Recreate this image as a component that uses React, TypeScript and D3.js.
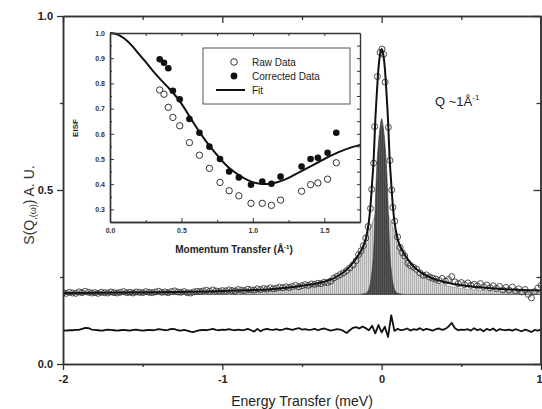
import { useEffect, useRef } from "react";
import * as d3 from "d3";

// main panel ticks
const mainYMajor = [0, 0.5, 1.0];
const mainYMinor = [0.25, 0.75];
const mainXMajor = [-2, -1, 0, 1];
const mainXMinor = [-1.5, -0.5, 0.5];

// residual, one value per 0.02 meV channel from -2 to 1
const residual = [
  0.097, 0.096, 0.097, 0.097, 0.098, 0.098, 0.101, 0.104, 0.103, 0.099,
  0.098, 0.097, 0.096, 0.097, 0.099, 0.098, 0.097, 0.096, 0.097, 0.098,
  0.097, 0.096, 0.098, 0.099, 0.097, 0.096, 0.097, 0.098, 0.097, 0.098,
  0.100, 0.099, 0.097, 0.098, 0.101, 0.100, 0.097, 0.096, 0.098, 0.096,
  0.093, 0.092, 0.095, 0.097, 0.098, 0.097, 0.099, 0.101, 0.098, 0.097,
  0.099, 0.098, 0.100, 0.098, 0.097, 0.099, 0.097, 0.098, 0.101, 0.097,
  0.093, 0.101, 0.094, 0.099, 0.101, 0.099, 0.098, 0.100, 0.097, 0.099,
  0.102, 0.100, 0.098, 0.101, 0.103, 0.099, 0.100, 0.098, 0.099, 0.101,
  0.097, 0.100, 0.102, 0.099, 0.096, 0.098, 0.100, 0.099, 0.095, 0.089,
  0.097, 0.104, 0.106, 0.102, 0.108, 0.103, 0.097, 0.110, 0.088, 0.112,
  0.091, 0.107, 0.078, 0.140, 0.095, 0.101, 0.097, 0.099, 0.102, 0.096,
  0.100, 0.098, 0.103, 0.097, 0.101, 0.099, 0.096, 0.100, 0.102, 0.098,
  0.101, 0.108, 0.118, 0.103, 0.097, 0.099, 0.098, 0.100, 0.096, 0.103,
  0.097, 0.100, 0.094, 0.101, 0.097, 0.102, 0.095, 0.100, 0.098, 0.097,
  0.099, 0.096, 0.100, 0.097, 0.094, 0.099, 0.096, 0.092, 0.098, 0.096,
  0.099,
];

// raw spectrum: left wing channels -2 .. -0.32 (step 0.02)
const rawLeft = [
  0.205, 0.203, 0.206, 0.204, 0.203, 0.207, 0.205, 0.209, 0.206, 0.204,
  0.205, 0.203, 0.206, 0.205, 0.204, 0.207, 0.205, 0.204, 0.206, 0.208,
  0.205, 0.206, 0.204, 0.207, 0.206, 0.205, 0.208, 0.206, 0.205, 0.207,
  0.209, 0.206, 0.207, 0.205, 0.208, 0.210, 0.207, 0.206, 0.208, 0.205,
  0.204, 0.207, 0.209, 0.208, 0.210, 0.212, 0.209, 0.213, 0.210, 0.209,
  0.211, 0.210, 0.213, 0.211, 0.210, 0.214, 0.212, 0.211, 0.215, 0.213,
  0.212, 0.216, 0.214, 0.217, 0.215, 0.219, 0.216, 0.218, 0.221, 0.219,
  0.222, 0.220, 0.223, 0.226, 0.222, 0.225, 0.228, 0.226, 0.230, 0.229,
  0.232, 0.231, 0.235, 0.234, 0.238,
];
// raw spectrum around the elastic line [E, S]
const rawPeak: [number, number][] = [
  [-0.30, 0.247], [-0.28, 0.252], [-0.26, 0.257], [-0.24, 0.262], [-0.22, 0.268],
  [-0.20, 0.276], [-0.18, 0.285], [-0.16, 0.297], [-0.145, 0.314], [-0.13, 0.325],
  [-0.115, 0.34], [-0.10, 0.362], [-0.085, 0.395], [-0.07, 0.447], [-0.063, 0.502],
  [-0.05, 0.577], [-0.044, 0.682], [-0.027, 0.826], [-0.01, 0.895], [0.002, 0.905],
  [0.012, 0.89], [0.022, 0.81], [0.042, 0.68], [0.052, 0.585], [0.063, 0.50],
  [0.07, 0.45], [0.082, 0.41], [0.10, 0.365], [0.115, 0.335], [0.13, 0.32],
  [0.145, 0.31], [0.165, 0.29], [0.18, 0.283], [0.20, 0.278], [0.22, 0.272],
  [0.24, 0.262], [0.26, 0.255], [0.28, 0.256], [0.30, 0.25],
];
// raw spectrum right wing 0.32 .. 1.0 (step 0.02)
const rawRight = [
  0.247, 0.244, 0.240, 0.246, 0.238, 0.243, 0.251, 0.236, 0.231, 0.234,
  0.228, 0.233, 0.226, 0.229, 0.224, 0.231, 0.222, 0.227, 0.219, 0.225,
  0.217, 0.223, 0.213, 0.220, 0.212, 0.221, 0.210, 0.216, 0.207, 0.214,
  0.200, 0.190, 0.208, 0.218, 0.226,
];

// total fit
const fitE = [-2, -1.5, -1, -0.8, -0.7, -0.6, -0.5, -0.4, -0.35, -0.3, -0.25, -0.2, -0.15, -0.125, -0.1, -0.08, -0.07, -0.06, -0.05, -0.04, -0.03, -0.02, -0.01, 0,
  0.01, 0.02, 0.03, 0.04, 0.05, 0.06, 0.07, 0.08, 0.1, 0.125, 0.15, 0.2, 0.25, 0.3, 0.35, 0.4, 0.5, 0.6, 0.7, 0.8, 1];
const fitS = [0.204, 0.206, 0.21, 0.213, 0.215, 0.219, 0.225, 0.232, 0.238, 0.247, 0.26, 0.28, 0.31, 0.33, 0.36, 0.41, 0.455, 0.52, 0.59, 0.70, 0.78, 0.85, 0.89, 0.905,
  0.89, 0.85, 0.78, 0.70, 0.59, 0.52, 0.455, 0.41, 0.36, 0.33, 0.31, 0.28, 0.262, 0.25, 0.241, 0.235, 0.226, 0.221, 0.217, 0.214, 0.211];

// quasielastic (broad) component
const broadE = [-2, -1.5, -1, -0.7, -0.5, -0.4, -0.3, -0.25, -0.2, -0.15, -0.125, -0.1, -0.08, -0.06, -0.04, -0.02, 0,
  0.02, 0.04, 0.06, 0.08, 0.1, 0.125, 0.15, 0.2, 0.25, 0.3, 0.4, 0.5, 0.7, 1];
const broadS = [0.202, 0.203, 0.206, 0.21, 0.217, 0.226, 0.24, 0.252, 0.27, 0.30, 0.325, 0.355, 0.38, 0.405, 0.43, 0.445, 0.45,
  0.445, 0.43, 0.405, 0.38, 0.355, 0.325, 0.30, 0.27, 0.252, 0.24, 0.226, 0.217, 0.21, 0.206];

// elastic (narrow) component
const narrowE = [-0.13, -0.1, -0.08, -0.07, -0.06, -0.05, -0.045, -0.04, -0.03, -0.02, -0.01, 0,
  0.01, 0.02, 0.03, 0.04, 0.045, 0.05, 0.06, 0.07, 0.08, 0.1, 0.13];
const narrowS = [0.2, 0.203, 0.215, 0.235, 0.27, 0.33, 0.39, 0.46, 0.57, 0.635, 0.68, 0.705,
  0.68, 0.635, 0.57, 0.46, 0.39, 0.33, 0.27, 0.235, 0.215, 0.203, 0.2];
const componentBase = 0.2;

// inset: EISF vs Q
const qValues = [0.348, 0.378, 0.408, 0.44, 0.488, 0.556, 0.626, 0.696, 0.77, 0.834, 0.902, 0.987, 1.066, 1.13, 1.194, 1.341, 1.404, 1.455, 1.523, 1.584];
const eisfRaw = [0.774, 0.757, 0.705, 0.665, 0.632, 0.565, 0.515, 0.463, 0.407, 0.374, 0.354, 0.324, 0.324, 0.316, 0.337, 0.372, 0.398, 0.405, 0.42, 0.485];
const eisfCorrected = [0.896, 0.882, 0.86, 0.771, 0.737, 0.659, 0.604, 0.549, 0.5, 0.45, 0.427, 0.398, 0.411, 0.402, 0.43, 0.47, 0.5, 0.505, 0.525, 0.604];
const fitQ = [0, 0.05, 0.1, 0.15, 0.2, 0.25, 0.3, 0.35, 0.4, 0.45, 0.5, 0.55, 0.6, 0.65, 0.7, 0.75, 0.8, 0.85, 0.9, 0.95, 1.0, 1.05, 1.1, 1.15, 1.2, 1.25, 1.3, 1.4, 1.5, 1.6, 1.7, 1.75];
const fitEisf = [1.0, 0.995, 0.978, 0.952, 0.918, 0.885, 0.85, 0.818, 0.788, 0.757, 0.72, 0.675, 0.63, 0.588, 0.55, 0.515, 0.483, 0.457, 0.437, 0.42, 0.408, 0.402, 0.401, 0.405, 0.413, 0.425, 0.44, 0.47, 0.5, 0.527, 0.548, 0.556];
const insetYMajor = [0.3, 0.4, 0.5, 0.6, 0.7, 0.8, 0.9, 1.0];
const insetYMinor = [0.25, 0.35, 0.45, 0.55, 0.65, 0.75, 0.85, 0.95];
const insetXMajor = [0, 0.5, 1.0, 1.5];
const insetXMinor = [0.25, 0.75, 1.25];

const FONT = "'Liberation Sans', Arial, sans-serif";

export default function App() {
  const ref = useRef<SVGSVGElement>(null);

  useEffect(() => {
    const svg = d3.select(ref.current);
    svg.selectAll("*").remove();

    const W = 542, H = 409;
    const m = { left: 63, right: 541, top: 16, bottom: 364 };
    const x = d3.scaleLinear().domain([-2, 1]).range([m.left, m.right]);
    const y = d3.scaleLinear().domain([0, 1]).range([m.bottom, m.top]);

    svg.attr("width", W).attr("height", H);

    const defs = svg.append("defs");
    const pl = defs.append("pattern").attr("id", "hatchLight").attr("width", 2).attr("height", 4).attr("patternUnits", "userSpaceOnUse");
    pl.append("rect").attr("width", 2).attr("height", 4).attr("fill", "#dadada");
    pl.append("line").attr("x1", 0.5).attr("x2", 0.5).attr("y1", 0).attr("y2", 4).attr("stroke", "#9c9c9c").attr("stroke-width", 0.7);
    const pd = defs.append("pattern").attr("id", "hatchDark").attr("width", 2).attr("height", 4).attr("patternUnits", "userSpaceOnUse");
    pd.append("rect").attr("width", 2).attr("height", 4).attr("fill", "#555");
    pd.append("line").attr("x1", 0.5).attr("x2", 0.5).attr("y1", 0).attr("y2", 4).attr("stroke", "#3a3a3a").attr("stroke-width", 0.7);
    defs.append("clipPath").attr("id", "plotClip").append("rect")
      .attr("x", m.left).attr("y", m.top).attr("width", m.right - m.left).attr("height", m.bottom - m.top);

    const plot = svg.append("g").attr("clip-path", "url(#plotClip)");

    // components
    const broad = broadE.map((e, i) => [e, broadS[i]] as [number, number]);
    const narrow = narrowE.map((e, i) => [e, narrowS[i]] as [number, number]);
    const compArea = d3.area<[number, number]>()
      .x(d => x(d[0])).y0(y(componentBase)).y1(d => y(d[1]))
      .curve(d3.curveMonotoneX);
    plot.append("path").attr("d", compArea(broad)).attr("fill", "url(#hatchLight)").attr("stroke", "#888").attr("stroke-width", 0.6);
    plot.append("path").attr("d", compArea(narrow)).attr("fill", "url(#hatchDark)").attr("stroke", "#333").attr("stroke-width", 0.6);
    plot.append("line").attr("x1", x(-2)).attr("x2", x(1)).attr("y1", y(componentBase)).attr("y2", y(componentBase))
      .attr("stroke", "#555").attr("stroke-width", 0.8);

    // raw data circles
    const raw: [number, number][] = [
      ...rawLeft.map((s, i) => [-2 + i * 0.02, s] as [number, number]),
      ...rawPeak,
      ...rawRight.map((s, i) => [0.32 + i * 0.02, s] as [number, number]),
    ];
    plot.append("g").selectAll("circle").data(raw).enter().append("circle")
      .attr("cx", d => x(d[0])).attr("cy", d => y(d[1])).attr("r", 3)
      .attr("fill", "none").attr("stroke", "#3a3a3a").attr("stroke-width", 0.9);

    // total fit
    const fit = fitE.map((e, i) => [e, fitS[i]] as [number, number]);
    const line = d3.line<[number, number]>().x(d => x(d[0])).y(d => y(d[1])).curve(d3.curveMonotoneX);
    plot.append("path").attr("d", line(fit)).attr("fill", "none").attr("stroke", "#111").attr("stroke-width", 2);

    // residual
    const res = residual.map((r, i) => [-2 + i * 0.02, r] as [number, number]);
    plot.append("path").attr("d", d3.line<[number, number]>().x(d => x(d[0])).y(d => y(d[1]))(res))
      .attr("fill", "none").attr("stroke", "#111").attr("stroke-width", 1.8).attr("stroke-linejoin", "round");

    // main axes
    const axColor = "#333";
    const styleAxis = (g: d3.Selection<SVGGElement, unknown, null, undefined>, fs: number, bold: boolean) => {
      g.selectAll("path").attr("stroke", axColor).attr("stroke-width", 1.5);
      g.selectAll("line").attr("stroke", axColor).attr("stroke-width", 1.3);
      g.selectAll("text").attr("font-family", FONT).attr("font-size", fs).attr("font-weight", bold ? "bold" : "normal").attr("fill", "#222");
    };
    const fmt1 = d3.format(".1f");

    const gl = svg.append("g").attr("transform", `translate(${m.left},0)`)
      .call(d3.axisLeft(y).tickValues(mainYMajor).tickSize(6).tickSizeOuter(0).tickPadding(4).tickFormat(d => fmt1(d as number)));
    styleAxis(gl, 11, true);
    const glm = svg.append("g").attr("transform", `translate(${m.left},0)`)
      .call(d3.axisLeft(y).tickValues(mainYMinor).tickSize(3).tickSizeOuter(0).tickFormat(() => ""));
    styleAxis(glm, 11, true);

    const gb = svg.append("g").attr("transform", `translate(0,${m.bottom})`)
      .call(d3.axisBottom(x).tickValues(mainXMajor).tickSize(6).tickSizeOuter(0).tickPadding(5).tickFormat(d => String(d)));
    styleAxis(gb, 11, true);
    // the last label sits on the page edge: keep it inside
    gb.selectAll<SVGTextElement, number>("text").filter(d => d === 1).attr("text-anchor", "end").attr("dx", 1);
    const gbm = svg.append("g").attr("transform", `translate(0,${m.bottom})`)
      .call(d3.axisBottom(x).tickValues(mainXMinor).tickSize(3).tickSizeOuter(0).tickFormat(() => ""));
    styleAxis(gbm, 11, true);

    const gt = svg.append("g").attr("transform", `translate(0,${m.top})`)
      .call(d3.axisTop(x).tickValues(mainXMajor).tickSize(-7).tickSizeOuter(0).tickFormat(() => ""));
    styleAxis(gt, 11, true);
    const gtm = svg.append("g").attr("transform", `translate(0,${m.top})`)
      .call(d3.axisTop(x).tickValues(mainXMinor).tickSize(-4).tickSizeOuter(0).tickFormat(() => ""));
    styleAxis(gtm, 11, true);

    const gr = svg.append("g").attr("transform", `translate(${m.right - 0.5},0)`)
      .call(d3.axisRight(y).tickValues(mainYMajor).tickSize(-7).tickSizeOuter(0).tickFormat(() => ""));
    styleAxis(gr, 11, true);
    const grm = svg.append("g").attr("transform", `translate(${m.right - 0.5},0)`)
      .call(d3.axisRight(y).tickValues(mainYMinor).tickSize(-4).tickSizeOuter(0).tickFormat(() => ""));
    styleAxis(grm, 11, true);

    // main titles
    const yt = svg.append("text").attr("transform", "translate(34,205) rotate(-90)")
      .attr("text-anchor", "middle").attr("font-family", FONT).attr("font-size", 14).attr("fill", "#333");
    yt.append("tspan").text("S(Q");
    yt.append("tspan").attr("font-size", 9).attr("dy", 2).text(",(ω)");
    yt.append("tspan").attr("dy", -2).text(") A. U.");

    svg.append("text").attr("x", 302).attr("y", 406).attr("text-anchor", "middle")
      .attr("font-family", FONT).attr("font-size", 14).attr("fill", "#222").text("Energy Transfer (meV)");

    const qt = svg.append("text").attr("x", 435).attr("y", 106)
      .attr("font-family", FONT).attr("font-size", 13).attr("fill", "#222");
    qt.append("tspan").text("Q ~1Å");
    qt.append("tspan").attr("font-size", 8).attr("dy", -6).text("-1");

    // ---- inset ----
    const ix = d3.scaleLinear().domain([0, 1.75]).range([110, 360]);
    const iy = d3.scaleLinear().domain([0.25, 1.0]).range([222, 33]);
    const inset = svg.append("g");
    inset.append("rect").attr("x", ix(0)).attr("y", iy(1)).attr("width", ix(1.75) - ix(0)).attr("height", iy(0.25) - iy(1))
      .attr("fill", "#fff");

    const fitPts = fitQ.map((q, i) => [q, fitEisf[i]] as [number, number]);
    inset.append("path").attr("d", d3.line<[number, number]>().x(d => ix(d[0])).y(d => iy(d[1])).curve(d3.curveMonotoneX)(fitPts))
      .attr("fill", "none").attr("stroke", "#111").attr("stroke-width", 2);

    inset.append("g").selectAll("circle").data(qValues).enter().append("circle")
      .attr("cx", d => ix(d)).attr("cy", (_, i) => iy(eisfRaw[i])).attr("r", 3.2)
      .attr("fill", "#fff").attr("stroke", "#333").attr("stroke-width", 1);
    inset.append("g").selectAll("circle").data(qValues).enter().append("circle")
      .attr("cx", d => ix(d)).attr("cy", (_, i) => iy(eisfCorrected[i])).attr("r", 3.3)
      .attr("fill", "#111");

    const styleInset = (g: d3.Selection<SVGGElement, unknown, null, undefined>) => {
      g.selectAll("path").attr("stroke", axColor).attr("stroke-width", 1.4);
      g.selectAll("line").attr("stroke", axColor).attr("stroke-width", 1);
      g.selectAll("text").attr("font-family", FONT).attr("font-size", 7).attr("font-weight", "bold").attr("fill", "#333");
    };
    const il = inset.append("g").attr("transform", `translate(${ix(0)},0)`)
      .call(d3.axisLeft(iy).tickValues(insetYMajor).tickSize(-4).tickSizeOuter(0).tickPadding(5).tickFormat(d => fmt1(d as number)));
    styleInset(il);
    const ilm = inset.append("g").attr("transform", `translate(${ix(0)},0)`)
      .call(d3.axisLeft(iy).tickValues(insetYMinor).tickSize(-2).tickSizeOuter(0).tickFormat(() => ""));
    styleInset(ilm);
    const ir = inset.append("g").attr("transform", `translate(${ix(1.75)},0)`)
      .call(d3.axisRight(iy).tickValues([...insetYMajor, ...insetYMinor]).tickSize(-3).tickSizeOuter(0).tickFormat(() => ""));
    styleInset(ir);
    const ib = inset.append("g").attr("transform", `translate(0,${iy(0.25)})`)
      .call(d3.axisBottom(ix).tickValues(insetXMajor).tickSize(-4).tickSizeOuter(0).tickPadding(6).tickFormat(d => fmt1(d as number)));
    styleInset(ib);
    const ibm = inset.append("g").attr("transform", `translate(0,${iy(0.25)})`)
      .call(d3.axisBottom(ix).tickValues(insetXMinor).tickSize(-2).tickSizeOuter(0).tickFormat(() => ""));
    styleInset(ibm);
    const it = inset.append("g").attr("transform", `translate(0,${iy(1)})`)
      .call(d3.axisTop(ix).tickValues([...insetXMajor, ...insetXMinor]).tickSize(-3).tickSizeOuter(0).tickFormat(() => ""));
    styleInset(it);

    inset.append("text").attr("transform", "translate(78,128) rotate(-90)").attr("text-anchor", "middle")
      .attr("font-family", FONT).attr("font-size", 8).attr("font-weight", "bold").attr("fill", "#222").text("EISF");
    const mt = inset.append("text").attr("x", 234).attr("y", 253).attr("text-anchor", "middle")
      .attr("font-family", FONT).attr("font-size", 10).attr("font-weight", "bold").attr("fill", "#222");
    mt.append("tspan").text("Momentum Transfer (Å");
    mt.append("tspan").attr("font-size", 6).attr("dy", -4).text("-1");
    mt.append("tspan").attr("dy", 4).text(")");

    // legend
    const lg = inset.append("g");
    lg.append("rect").attr("x", 203).attr("y", 48).attr("width", 147).attr("height", 56)
      .attr("fill", "#fff").attr("stroke", "#555").attr("stroke-width", 1);
    lg.append("circle").attr("cx", 234).attr("cy", 62).attr("r", 3.3).attr("fill", "#fff").attr("stroke", "#333").attr("stroke-width", 1);
    lg.append("circle").attr("cx", 234).attr("cy", 76).attr("r", 3.4).attr("fill", "#111");
    lg.append("line").attr("x1", 216).attr("x2", 245).attr("y1", 90).attr("y2", 90).attr("stroke", "#111").attr("stroke-width", 2);
    const labels = ["Raw Data", "Corrected Data", "Fit"];
    labels.forEach((t, i) => {
      lg.append("text").attr("x", 252).attr("y", 66 + i * 14).attr("font-family", FONT).attr("font-size", 10)
        .attr("fill", "#222").text(t);
    });
  }, []);

  return (
    <div style={{ position: "absolute", left: 0, top: 0, width: 542, height: 409, background: "#fff" }}>
      <svg ref={ref} width={542} height={409} style={{ display: "block" }} />
    </div>
  );
}
